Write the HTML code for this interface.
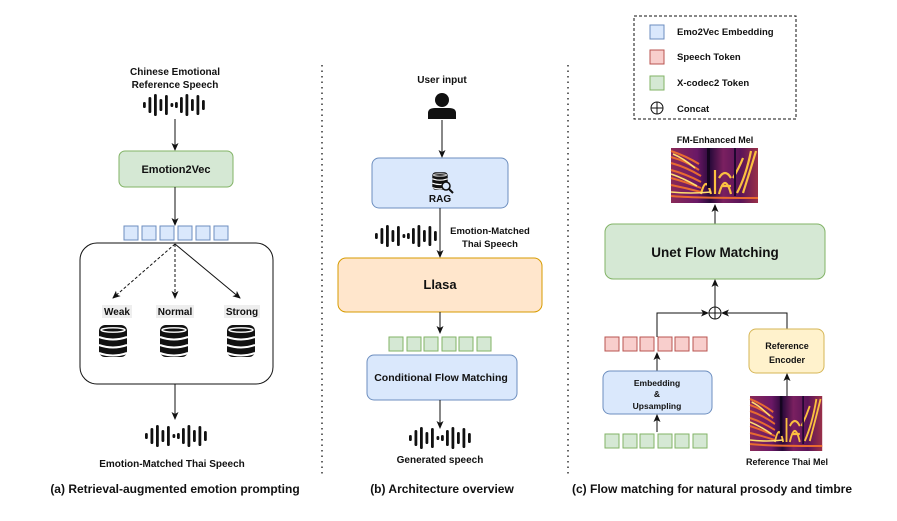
<!DOCTYPE html>
<html><head><meta charset="utf-8"><style>
html,body{margin:0;padding:0;background:#fff;}
svg text{font-family:"Liberation Sans",Arial,sans-serif;font-weight:bold;fill:#111;}
</style></head><body>
<svg width="897" height="516" viewBox="0 0 897 516" xmlns="http://www.w3.org/2000/svg">
<defs>
<marker id="ah" markerWidth="8" markerHeight="8" refX="7" refY="4" orient="auto" markerUnits="userSpaceOnUse">
<path d="M0,0.5 L8,4 L0,7.5 L2,4 Z" fill="#111"/></marker>
<g id="wave">
<rect x="-32" y="-3" width="2.8" height="6" rx="1.4" fill="#111"/>
<rect x="-26.5" y="-8" width="2.8" height="16" rx="1.4" fill="#111"/>
<rect x="-21" y="-11" width="2.8" height="22" rx="1.4" fill="#111"/>
<rect x="-15.5" y="-6" width="2.8" height="12" rx="1.4" fill="#111"/>
<rect x="-10" y="-10" width="2.8" height="20" rx="1.4" fill="#111"/>
<rect x="-4.5" y="-2" width="2.8" height="4" rx="1.4" fill="#111"/>
<rect x="0" y="-3" width="2.8" height="6" rx="1.4" fill="#111"/>
<rect x="5" y="-8" width="2.8" height="16" rx="1.4" fill="#111"/>
<rect x="10.5" y="-11" width="2.8" height="22" rx="1.4" fill="#111"/>
<rect x="16" y="-6" width="2.8" height="12" rx="1.4" fill="#111"/>
<rect x="21.5" y="-10" width="2.8" height="20" rx="1.4" fill="#111"/>
<rect x="27" y="-5" width="2.8" height="10" rx="1.4" fill="#111"/>
</g>
<g id="db">
<rect x="-14" y="-16" width="28" height="32" rx="6" fill="#111"/>
<ellipse cx="0" cy="-11" rx="12" ry="2.2" fill="#111" stroke="#fff" stroke-width="1.4"/>
<path d="M-14,-4 Q0,1 14,-4 M-14,4 Q0,9 14,4 M-14,12 Q0,17 14,12" stroke="#fff" stroke-width="2" fill="none"/>
</g>
<linearGradient id="spg" x1="0" y1="0" x2="1" y2="0">
<stop offset="0" stop-color="#8a2a58"/><stop offset="0.3" stop-color="#6a1866"/><stop offset="0.45" stop-color="#2a0a3a"/><stop offset="0.6" stop-color="#7a2060"/><stop offset="0.8" stop-color="#5a1458"/><stop offset="1" stop-color="#9a3048"/>
</linearGradient>
<g id="spec">
<rect x="0" y="0" width="87" height="55" fill="url(#spg)"/>
<path d="M0,3 Q15,8 28,16 M0,9 Q15,13 28,22 M0,15 Q15,19 30,28 M0,22 Q15,26 30,34 M0,30 Q15,34 30,40 M0,37 Q15,40 30,44 M0,48 Q20,50 87,50" stroke="#e86a30" stroke-width="2" fill="none"/>
<path d="M30,46 Q35,26 40,46 M44,46 L44,22 M48,46 Q54,24 60,46 M50,38 L60,38 M48,30 Q54,20 60,30 M72,45 Q80,20 85,3 M66,45 Q75,28 80,3 M62,30 Q68,20 72,10" stroke="#fbc040" stroke-width="2.2" fill="none"/>
<path d="M0,44 Q20,46 40,44 M2,6 Q12,10 24,20 M0,26 Q12,30 26,38" stroke="#ffe070" stroke-width="1.6" fill="none"/>
<rect x="36" y="0" width="3" height="40" fill="#150520"/><rect x="63" y="0" width="2" height="48" fill="#200830"/>
</g>
</defs>

<!-- dividers -->
<line x1="322" y1="65" x2="322" y2="476" stroke="#333" stroke-width="1.5" stroke-dasharray="1.5,4"/>
<line x1="568" y1="65" x2="568" y2="476" stroke="#333" stroke-width="1.5" stroke-dasharray="1.5,4"/>

<!-- Panel a -->
<text x="175" y="75" font-size="10" text-anchor="middle">Chinese Emotional</text>
<text x="175" y="88" font-size="10" text-anchor="middle">Reference Speech</text>
<use href="#wave" x="175" y="105"/>
<line x1="175" y1="119" x2="175" y2="150" stroke="#111" stroke-width="1" marker-end="url(#ah)"/>
<rect x="119" y="151" width="114" height="36" rx="6" fill="#d5e8d4" stroke="#82b366"/>
<text x="176" y="173" font-size="11" text-anchor="middle">Emotion2Vec</text>
<line x1="175" y1="187" x2="175" y2="225" stroke="#111" stroke-width="1" marker-end="url(#ah)"/>
<g fill="#dae8fc" stroke="#6c8ebf">
<rect x="124" y="226" width="14" height="14"/><rect x="142" y="226" width="14" height="14"/><rect x="160" y="226" width="14" height="14"/><rect x="178" y="226" width="14" height="14"/><rect x="196" y="226" width="14" height="14"/><rect x="214" y="226" width="14" height="14"/>
</g>
<rect x="80" y="243" width="193" height="141" rx="17" fill="none" stroke="#111" stroke-width="1"/>
<line x1="175" y1="244" x2="113" y2="298" stroke="#111" stroke-dasharray="3,2" marker-end="url(#ah)"/>
<line x1="175" y1="244" x2="175" y2="298" stroke="#111" stroke-dasharray="3,2" marker-end="url(#ah)"/>
<line x1="175" y1="244" x2="240" y2="298" stroke="#111" marker-end="url(#ah)"/>
<rect x="102" y="305" width="30" height="13" fill="#eee"/><rect x="156" y="305" width="38" height="13" fill="#eee"/><rect x="224" y="305" width="36" height="13" fill="#eee"/>
<text x="117" y="315" font-size="10" text-anchor="middle">Weak</text>
<text x="175" y="315" font-size="10" text-anchor="middle">Normal</text>
<text x="242" y="315" font-size="10" text-anchor="middle">Strong</text>
<use href="#db" x="113" y="341"/><use href="#db" x="174" y="341"/><use href="#db" x="241" y="341"/>
<line x1="175" y1="384" x2="175" y2="419" stroke="#111" marker-end="url(#ah)"/>
<use href="#wave" x="177" y="436"/>
<text x="172" y="467" font-size="10" text-anchor="middle">Emotion-Matched Thai Speech</text>
<text x="175" y="493" font-size="12" text-anchor="middle">(a) Retrieval-augmented emotion prompting</text>

<!-- Panel b -->
<text x="442" y="83" font-size="10" text-anchor="middle">User input</text>
<circle cx="442" cy="100" r="7" fill="#111"/>
<path d="M428,119 L428,113 Q428,108 435,108 L449,108 Q456,108 456,113 L456,119 Z" fill="#111"/>
<line x1="442" y1="120" x2="442" y2="157" stroke="#111" marker-end="url(#ah)"/>
<rect x="372" y="158" width="136" height="50" rx="7" fill="#dae8fc" stroke="#6c8ebf"/>
<g transform="translate(440,181) scale(0.55)"><use href="#db"/></g>
<circle cx="446" cy="186" r="4" fill="#dae8fc" stroke="#111" stroke-width="1.5"/><line x1="449" y1="189" x2="453" y2="193" stroke="#111" stroke-width="2"/>
<text x="440" y="202" font-size="10" text-anchor="middle">RAG</text>
<line x1="440" y1="208" x2="440" y2="257" stroke="#111" marker-end="url(#ah)"/>
<use href="#wave" x="407" y="236"/>
<text x="490" y="234" font-size="9.5" text-anchor="middle">Emotion-Matched</text>
<text x="490" y="247" font-size="9.5" text-anchor="middle">Thai Speech</text>
<rect x="338" y="258" width="204" height="54" rx="8" fill="#ffe6cc" stroke="#d79b00"/>
<text x="440" y="289" font-size="13" text-anchor="middle">Llasa</text>
<line x1="440" y1="312" x2="440" y2="333" stroke="#111" marker-end="url(#ah)"/>
<g fill="#d5e8d4" stroke="#82b366">
<rect x="389" y="337" width="14" height="14"/><rect x="407" y="337" width="14" height="14"/><rect x="424" y="337" width="14" height="14"/><rect x="442" y="337" width="14" height="14"/><rect x="459" y="337" width="14" height="14"/><rect x="477" y="337" width="14" height="14"/>
</g>
<rect x="367" y="355" width="150" height="45" rx="7" fill="#dae8fc" stroke="#6c8ebf"/>
<text x="441" y="381" font-size="10.5" text-anchor="middle">Conditional Flow Matching</text>
<line x1="440" y1="400" x2="440" y2="428" stroke="#111" marker-end="url(#ah)"/>
<use href="#wave" x="441" y="438"/>
<text x="440" y="463" font-size="10" text-anchor="middle">Generated speech</text>
<text x="442" y="493" font-size="12" text-anchor="middle">(b) Architecture overview</text>

<!-- Panel c -->
<rect x="634" y="16" width="162" height="103" fill="none" stroke="#111" stroke-dasharray="3,2"/>
<rect x="650" y="25" width="14" height="14" fill="#dae8fc" stroke="#6c8ebf"/>
<rect x="650" y="50" width="14" height="14" fill="#f8cecc" stroke="#b85450"/>
<rect x="650" y="76" width="14" height="14" fill="#d5e8d4" stroke="#82b366"/>
<circle cx="657" cy="108" r="6" fill="none" stroke="#111"/><line x1="651" y1="108" x2="663" y2="108" stroke="#111"/><line x1="657" y1="102" x2="657" y2="114" stroke="#111"/>
<text x="677" y="35" font-size="9.5">Emo2Vec Embedding</text>
<text x="677" y="60" font-size="9.5">Speech Token</text>
<text x="677" y="86" font-size="9.5">X-codec2 Token</text>
<text x="677" y="112" font-size="9.5">Concat</text>
<text x="715" y="143" font-size="9" text-anchor="middle">FM-Enhanced Mel</text>
<use href="#spec" x="671" y="148"/>
<line x1="715" y1="224" x2="715" y2="205" stroke="#111" marker-end="url(#ah)"/>
<rect x="605" y="224" width="220" height="55" rx="8" fill="#d5e8d4" stroke="#82b366"/>
<text x="715" y="257" font-size="13.5" text-anchor="middle">Unet Flow Matching</text>
<line x1="715" y1="307" x2="715" y2="280" stroke="#111" marker-end="url(#ah)"/>
<circle cx="715" cy="313" r="6" fill="#fff" stroke="#111"/><line x1="709" y1="313" x2="721" y2="313" stroke="#111"/><line x1="715" y1="307" x2="715" y2="319" stroke="#111"/>
<polyline points="657,337 657,313 708,313" fill="none" stroke="#111" marker-end="url(#ah)"/>
<polyline points="787,329 787,313 722,313" fill="none" stroke="#111" marker-end="url(#ah)"/>
<g fill="#f8cecc" stroke="#b85450">
<rect x="605" y="337" width="14" height="14"/><rect x="623" y="337" width="14" height="14"/><rect x="640" y="337" width="14" height="14"/><rect x="658" y="337" width="14" height="14"/><rect x="675" y="337" width="14" height="14"/><rect x="693" y="337" width="14" height="14"/>
</g>
<line x1="657" y1="371" x2="657" y2="353" stroke="#111" marker-end="url(#ah)"/>
<rect x="603" y="371" width="109" height="43" rx="7" fill="#dae8fc" stroke="#6c8ebf"/>
<text x="657" y="386" font-size="8.5" text-anchor="middle">Embedding</text>
<text x="657" y="397" font-size="8.5" text-anchor="middle">&amp;</text>
<text x="657" y="409" font-size="8.5" text-anchor="middle">Upsampling</text>
<line x1="657" y1="432" x2="657" y2="415" stroke="#111" marker-end="url(#ah)"/>
<g fill="#d5e8d4" stroke="#82b366">
<rect x="605" y="434" width="14" height="14"/><rect x="623" y="434" width="14" height="14"/><rect x="640" y="434" width="14" height="14"/><rect x="658" y="434" width="14" height="14"/><rect x="675" y="434" width="14" height="14"/><rect x="693" y="434" width="14" height="14"/>
</g>
<rect x="749" y="329" width="75" height="44" rx="7" fill="#fff2cc" stroke="#d6b656"/>
<text x="787" y="349" font-size="9" text-anchor="middle">Reference</text>
<text x="787" y="363" font-size="9" text-anchor="middle">Encoder</text>
<line x1="787" y1="396" x2="787" y2="374" stroke="#111" marker-end="url(#ah)"/>
<g transform="translate(750,396) scale(0.83,1)"><use href="#spec"/></g>
<text x="787" y="465" font-size="9" text-anchor="middle">Reference Thai Mel</text>
<text x="712" y="493" font-size="12" text-anchor="middle">(c) Flow matching for natural prosody and timbre</text>
</svg>
</body></html>
